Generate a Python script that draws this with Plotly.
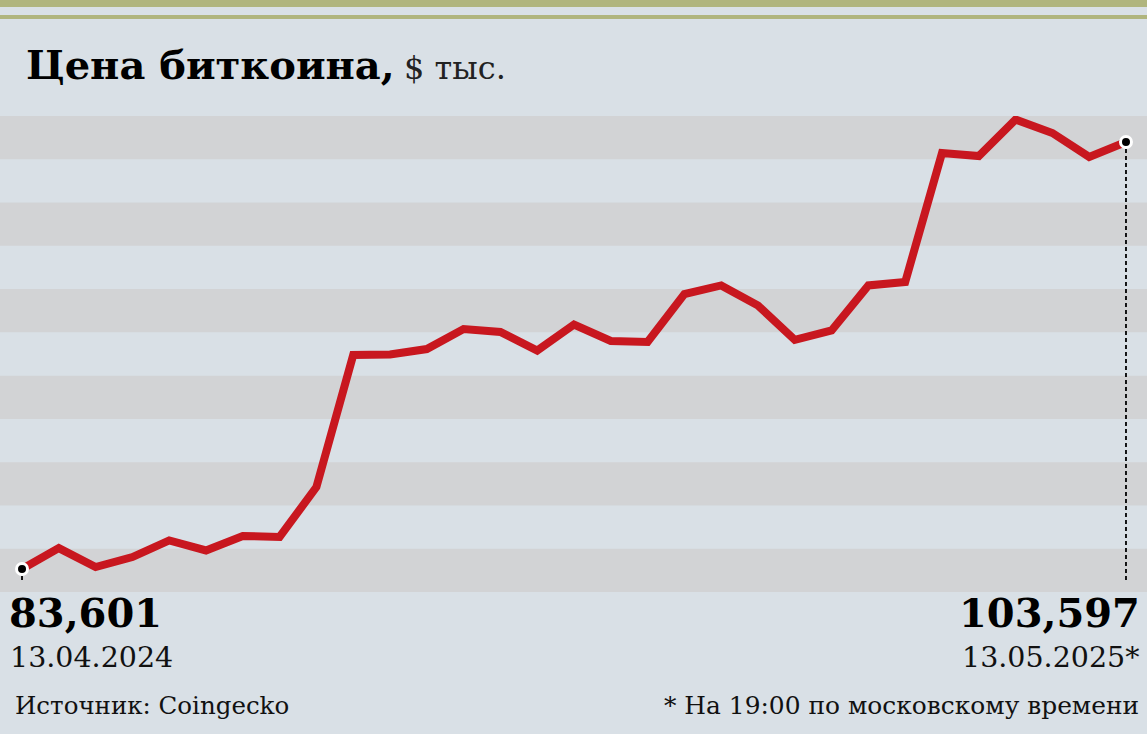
import plotly.graph_objects as go

# ---- data (BTC price, $ thousand, daily) ----
day_index = list(range(31))
price_k = [83.601, 84.58, 83.69, 84.16, 84.94, 84.47, 85.15, 85.10, 87.44, 93.62,
           93.65, 93.90, 94.84, 94.70, 93.83, 95.05, 94.28, 94.23, 96.48, 96.88,
           95.94, 94.33, 94.77, 96.88, 97.04, 103.08, 102.94, 104.65, 104.02, 102.90,
           103.597]
start_label = "83,601"
end_label = "103,597"
start_date = "13.04.2024"
end_date = "13.05.2025*"
title_bold = "Цена биткоина,"
title_unit = "$ тыс."
source_text = "Источник: Coingecko"
note_text = "* На 19:00 по московскому времени"

# ---- style ----
W, H = 1147, 734
TOP, BOTTOM = 116, 592
BG = "#d9e0e6"
BAND = "#d2d3d5"
OLIVE = "#b0b57e"
RED = "#c8171f"
FONT = "DejaVu Serif"
Y_RANGE = [82.524, 104.815]
X_RANGE = [-0.598, 30.571]
N_BANDS = 11


def py(p):
    """pixel y -> paper y"""
    return (BOTTOM - p) / (BOTTOM - TOP)


def px(p):
    return p / W


fig = go.Figure()

fig.add_trace(go.Scatter(x=day_index, y=price_k, mode="lines",
                         line=dict(color=RED, width=8), hoverinfo="skip"))

dash_bottom = Y_RANGE[0] + (Y_RANGE[1] - Y_RANGE[0]) * 9 / (BOTTOM - TOP)
for xi, yi in [(day_index[0], price_k[0]), (day_index[-1], price_k[-1])]:
    fig.add_trace(go.Scatter(x=[xi, xi], y=[yi, dash_bottom], mode="lines",
                             line=dict(color="black", width=1.8, dash="4px,3px"),
                             hoverinfo="skip"))

fig.add_trace(go.Scatter(x=[day_index[0], day_index[-1]], y=[price_k[0], price_k[-1]],
                         mode="markers",
                         marker=dict(color="black", size=11, line=dict(color="white", width=3)),
                         hoverinfo="skip"))

shapes = []
for i in range(0, N_BANDS, 2):
    shapes.append(dict(type="rect", xref="paper", yref="y domain", x0=0, x1=1,
                       y0=i / N_BANDS, y1=(i + 1) / N_BANDS, fillcolor=BAND,
                       line=dict(width=0), layer="below"))
shapes.append(dict(type="rect", xref="paper", yref="paper", x0=0, x1=1,
                   y0=py(7), y1=py(0), fillcolor=OLIVE, line=dict(width=0)))
shapes.append(dict(type="rect", xref="paper", yref="paper", x0=0, x1=1,
                   y0=py(19), y1=py(15), fillcolor=OLIVE, line=dict(width=0)))

ann = []


def text(t, x, y, size, anchor="left", bold=False, color="black"):
    ann.append(dict(text=f"<b>{t}</b>" if bold else t, xref="paper", yref="paper",
                    x=px(x), y=py(y), xanchor=anchor, yanchor="middle",
                    showarrow=False, font=dict(family=FONT, size=size, color=color)))


text(title_bold, 24, 65, 40, bold=True)
text(title_unit, 402, 68, 32, color="#222")
text(start_label, 7, 612, 40, bold=True)
text(start_date, 8, 657, 28.5, color="#111")
text(source_text, 13, 705, 24.5, color="#111")
text(end_label, 1142, 612, 40, anchor="right", bold=True)
text(end_date, 1141, 657, 28.5, anchor="right", color="#111")
text(note_text, 1141, 705, 24.9, anchor="right", color="#111")

fig.update_layout(
    width=W, height=H,
    margin=dict(l=0, r=0, t=TOP, b=H - BOTTOM),
    paper_bgcolor=BG, plot_bgcolor=BG,
    showlegend=False,
    xaxis=dict(range=X_RANGE, visible=False, fixedrange=True),
    yaxis=dict(range=Y_RANGE, visible=False, fixedrange=True),
    shapes=shapes, annotations=ann,
)

fig.write_html("out.html", config={"displayModeBar": False},
               post_script="document.body.style.margin='0';document.body.style.background='" + BG + "';")
